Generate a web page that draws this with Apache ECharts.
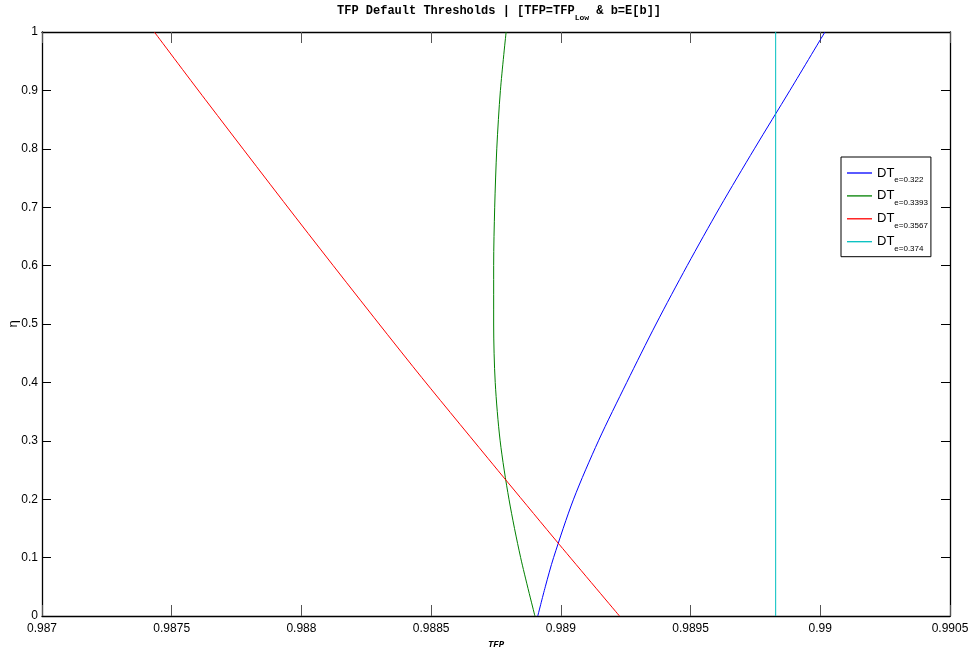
<!DOCTYPE html>
<html>
<head>
<meta charset="utf-8">
<script src="https://cdn.jsdelivr.net/npm/echarts@6/dist/echarts.min.js"></script>
<style>
html,body{margin:0;padding:0;background:#fff;}
#chart{width:969px;height:652px;}
</style>
</head>
<body>
<div id="chart"></div>
<script>
// ---- data ----
const xTicks = [0.987, 0.9875, 0.988, 0.9885, 0.989, 0.9895, 0.99, 0.9905];
const yTicks = [0, 0.1, 0.2, 0.3, 0.4, 0.5, 0.6, 0.7, 0.8, 0.9, 1];

const seriesNames = ['e=0.322', 'e=0.3393', 'e=0.3567', 'e=0.374'];

const blueEta = [0, 0.05, 0.1, 0.2, 0.3, 0.4, 0.5, 0.6, 0.7, 0.8, 0.9, 1];
const blueTFP = [0.988911, 0.988940, 0.988972, 0.989049, 0.989145, 0.989254, 0.989367, 0.989487, 0.989613, 0.989746, 0.989883, 0.990018];

const greenEta = [0, 0.1, 0.2, 0.3, 0.4, 0.5, 0.6, 0.7, 0.8, 0.9, 1];
const greenTFP = [0.988900, 0.988845, 0.988800, 0.988766, 0.988747, 0.988741, 0.988741, 0.988745, 0.988753, 0.988767, 0.988789];

const redEta = [0, 0.123, 0.228, 0.270, 0.427, 0.655, 0.884, 1];
const redTFP = [0.989226, 0.988993, 0.988797, 0.988719, 0.988430, 0.988026, 0.987630, 0.987433];

const cyanEta = [0, 1];
const cyanTFP = [0.989828, 0.989828];

// ---- build ----
function pairs(xs, ys) { return xs.map((x, i) => [x, ys[i]]); }

const labelFont = "'Liberation Sans Narrow', 'Liberation Sans', Arial, sans-serif";
const monoFont = "'Liberation Mono', 'DejaVu Sans Mono', monospace";

const chart = echarts.init(document.getElementById('chart'), null, {renderer: 'canvas'});

const xMin = xTicks[0], xMax = xTicks[xTicks.length - 1], xInt = xTicks[1] - xTicks[0];
const yMin = yTicks[0], yMax = yTicks[yTicks.length - 1], yInt = yTicks[1] - yTicks[0];

function fmt(v) { return String(+(+v).toFixed(4)); }

const axisLine = {show: true, onZero: false, lineStyle: {color: '#000', width: 1.3}};

const colors = ['#0000ff', '#008000', '#ff0000', '#00bfbf'];
const lineData = [pairs(blueTFP, blueEta), pairs(greenTFP, greenEta), pairs(redTFP, redEta), pairs(cyanTFP, cyanEta)];

chart.setOption({
  animation: false,
  backgroundColor: '#fff',
  title: {
    text: '{n|TFP Default Thresholds | [TFP=TFP}{s|Low}{n| & b=E[b]]}',
    left: 337,
    top: 0,
    padding: 0,
    textStyle: {
      rich: {
        n: {fontFamily: monoFont, fontWeight: 'bold', fontSize: 12, color: '#000', lineHeight: 22},
        s: {fontFamily: monoFont, fontWeight: 'bold', fontSize: 8, color: '#000', lineHeight: 7, verticalAlign: 'bottom'}
      }
    }
  },
  grid: {left: 42, right: 19, top: 32, bottom: 36, containLabel: false, outerBoundsMode: 'none'},
  legend: {
    orient: 'vertical',
    left: 841,
    top: 157,
    padding: [9.5, 3, 4, 6],
    itemGap: 5.4,
    icon: 'rect',
    itemWidth: 25,
    itemHeight: 1.3,
    backgroundColor: '#fff',
    borderColor: '#000',
    borderWidth: 1,
    borderRadius: 0,
    data: seriesNames,
    formatter: function (name) { return '{a|DT}{b|' + name + '}'; },
    textStyle: {
      rich: {
        a: {fontFamily: labelFont, fontSize: 13, color: '#000', lineHeight: 22},
        b: {fontFamily: labelFont, fontSize: 8, color: '#000', lineHeight: 10, verticalAlign: 'bottom'}
      }
    }
  },
  xAxis: [{
    type: 'value', position: 'bottom',
    min: xMin, max: xMax, interval: xInt,
    name: 'TFP', nameLocation: 'middle', nameGap: 22,
    nameTextStyle: {fontFamily: monoFont, fontStyle: 'italic', fontWeight: 'bold', fontSize: 9, color: '#000'},
    axisLine: axisLine,
    axisTick: {show: true, inside: true, length: 11, lineStyle: {color: '#555', width: 1}},
    axisLabel: {show: true, margin: 7, fontFamily: labelFont, fontSize: 12, color: '#000', formatter: fmt, showMinLabel: true, showMaxLabel: true},
    splitLine: {show: false}
  }, {
    type: 'value', position: 'top',
    min: xMin, max: xMax, interval: xInt,
    axisLine: axisLine,
    axisTick: {show: true, inside: true, length: 11, lineStyle: {color: '#555', width: 1}},
    axisLabel: {show: false},
    splitLine: {show: false}
  }],
  yAxis: [{
    type: 'value', position: 'left',
    min: yMin, max: yMax, interval: yInt,
    name: 'η', nameLocation: 'middle', nameGap: 22, nameMoveOverlap: false,
    nameTextStyle: {fontFamily: labelFont, fontSize: 13, color: '#000'},
    axisLine: axisLine,
    axisTick: {show: true, inside: true, length: 9, lineStyle: {color: '#000', width: 1}},
    axisLabel: {show: true, margin: 4, fontFamily: labelFont, fontSize: 12, color: '#000', formatter: fmt, showMinLabel: true, showMaxLabel: true},
    splitLine: {show: false}
  }, {
    type: 'value', position: 'right',
    min: yMin, max: yMax, interval: yInt,
    axisLine: axisLine,
    axisTick: {show: true, inside: true, length: 9, lineStyle: {color: '#000', width: 1}},
    axisLabel: {show: false},
    splitLine: {show: false}
  }],
  series: seriesNames.map((name, i) => ({
    name: name,
    type: 'line',
    xAxisIndex: 0,
    yAxisIndex: 0,
    data: lineData[i],
    symbol: 'none',
    smooth: i === 3 ? false : 0.3,
    lineStyle: {color: colors[i], width: 1},
    itemStyle: {color: colors[i]},
    emphasis: {disabled: true},
    clip: true,
    z: 2 + i
  }))
});
</script>
</body>
</html>
